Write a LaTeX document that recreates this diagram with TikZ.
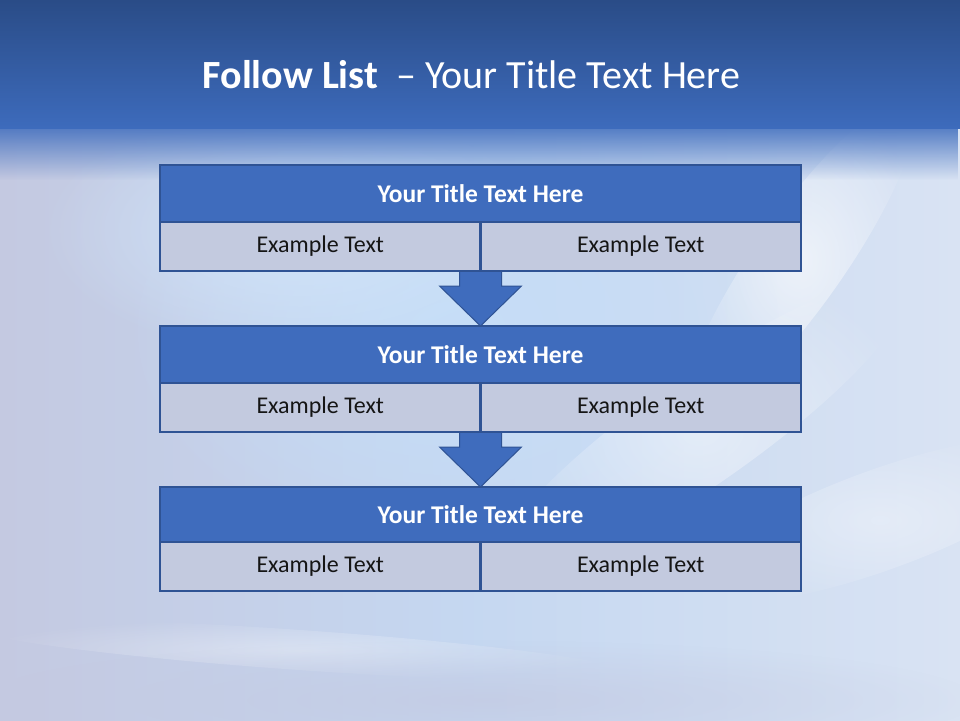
\documentclass[tikz,border=0pt]{standalone}
\usepackage{fontspec}
\setmainfont{Carlito}
\usetikzlibrary{fadings,calc}
\tikzfading[name=softglow, inner color=transparent!0, outer color=transparent!100]
\definecolor{bandtop}{HTML}{2A4C87}
\definecolor{bandbot}{HTML}{3D6BBC}
\definecolor{boxblue}{HTML}{3F6CBD}
\definecolor{boxedge}{HTML}{2F5394}
\definecolor{cellfill}{HTML}{C3CADF}
\definecolor{lav}{HTML}{C4C9E1}
\definecolor{skyblue}{HTML}{C6DEF8}
\definecolor{paleright}{HTML}{D9E3F3}
\definecolor{textdark}{HTML}{151515}
\tikzset{
  titlebox/.style={rectangle, draw=boxedge, line width=2.5pt, fill=boxblue,
    minimum width=641pt, inner sep=0pt, outer sep=0pt, anchor=north west,
    text=white, font=\fontsize{25.5}{28}\selectfont\bfseries},
  cellbox/.style={rectangle, draw=boxedge, line width=2.5pt, fill=cellfill,
    minimum width=320.5pt, minimum height=49pt, inner sep=0pt, outer sep=0pt,
    anchor=north west, text=textdark, font=\fontsize{24}{27}\selectfont},
  blockarrow/.style={fill=boxblue, draw=boxedge, line width=1pt, line join=miter},
  glow/.style={path fading=softglow}
}
\begin{document}
\begin{tikzpicture}[x=1pt,y=-1pt]
\useasboundingbox (0,0) rectangle (960,720);
% background
\fill[lav] (0,0) rectangle (960,720);
\shade[left color=lav, right color=paleright, middle color=skyblue!70!lav] (0,120) rectangle (960,720);
\fill[skyblue, glow] (450,330) ellipse [x radius=330, y radius=230];
\fill[skyblue!80!white, glow] (300,230) ellipse [x radius=260, y radius=130];
\fill[white, glow, opacity=0.6] (800,260) ellipse [x radius=45, y radius=190, rotate=-35];
\fill[white, glow, opacity=0.45] (700,430) ellipse [x radius=55, y radius=250, rotate=-55];
\fill[white, glow, opacity=0.35] (880,520) ellipse [x radius=50, y radius=200, rotate=-70];
\fill[white, glow, opacity=0.35] (300,650) ellipse [x radius=330, y radius=20, rotate=-4];
\fill[lav, glow, opacity=0.7] (480,700) ellipse [x radius=500, y radius=60];
% top band
\shade[top color=bandtop, bottom color=bandbot] (0,0) rectangle (960,128);
\fill[bandbot, path fading=south, opacity=0.85] (0,127) rectangle (960,180);
% title
\node[anchor=base, text=white, inner sep=0pt] (title) at (471.5,88)
  {\fontsize{40}{46}\selectfont\textbf{Follow List} \ – Your Title Text Here};
% arrows (drawn below boxes)
\coordinate (m1) at (480.5,271);
\coordinate (m2) at (480.5,432);
\coordinate (tip1) at (480.5,326);
\coordinate (tip2) at (480.5,487);
\filldraw[blockarrow] ($(m1)+(-21,0)$) -- ($(m1)+(21,0)$) -- ($(m1)+(21,15)$) -- ($(m1)+(41,15)$)
  -- (tip1) -- ($(m1)+(-41,15)$) -- ($(m1)+(-21,15)$) -- cycle;
\filldraw[blockarrow] ($(m2)+(-21,0)$) -- ($(m2)+(21,0)$) -- ($(m2)+(21,15)$) -- ($(m2)+(41,15)$)
  -- (tip2) -- ($(m2)+(-41,15)$) -- ($(m2)+(-21,15)$) -- cycle;
% block 1
\node[titlebox, minimum height=57pt] (t1) at (160,165) {Your Title Text Here};
\node[cellbox] (a1) at (t1.south west) {Example Text};
\node[cellbox] (b1) at (t1.south) {Example Text};
% block 2
\node[titlebox, minimum height=57pt] (t2) at (160,326) {Your Title Text Here};
\node[cellbox] (a2) at (t2.south west) {Example Text};
\node[cellbox] (b2) at (t2.south) {Example Text};
% block 3
\node[titlebox, minimum height=55pt] (t3) at (160,487) {Your Title Text Here};
\node[cellbox] (a3) at (t3.south west) {Example Text};
\node[cellbox] (b3) at (t3.south) {Example Text};
\end{tikzpicture}
\end{document}
